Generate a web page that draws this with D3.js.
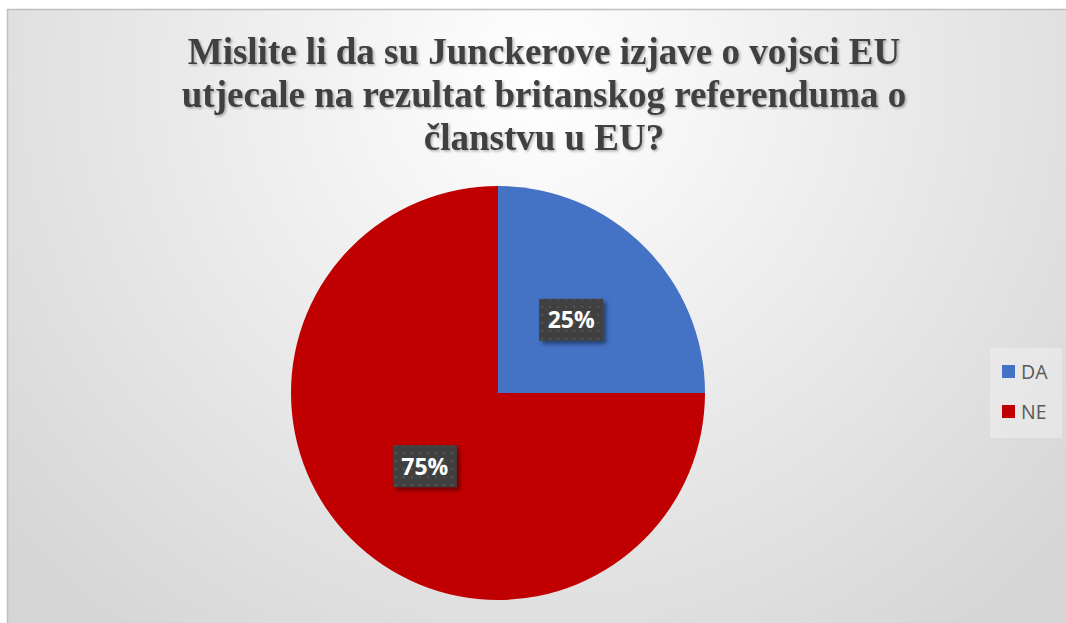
<!DOCTYPE html>
<html><head><meta charset="utf-8">
<script src="https://cdn.jsdelivr.net/npm/d3@7"></script>
<style>body{margin:0;background:#fff;}svg{display:block;}</style>
</head><body>
<script>
const categories = ["DA", "NE"];
const values = [25, 75];
const colors = ["#4472c4", "#c00000"];
const titleLines = ["Mislite li da su Junckerove izjave o vojsci EU", "utjecale na rezultat britanskog referenduma o", "članstvu u EU?"];

const W = 1066, H = 623;
const svg = d3.select("body").append("svg").attr("width", W).attr("height", H);
const defs = svg.append("defs");

const bg = defs.append("radialGradient").attr("id", "bg").attr("gradientUnits", "userSpaceOnUse")
  .attr("cx", 540).attr("cy", 80).attr("r", 700);
bg.append("stop").attr("offset", "0").attr("stop-color", "#ffffff");
bg.append("stop").attr("offset", "1").attr("stop-color", "#d6d6d6");

const pat = defs.append("pattern").attr("id", "dots").attr("patternUnits", "userSpaceOnUse")
  .attr("width", 8).attr("height", 8);
pat.append("rect").attr("width", 8).attr("height", 8).attr("fill", "#3f3f3f");
pat.append("rect").attr("x", 2).attr("y", 2).attr("width", 2).attr("height", 2).attr("fill", "#555");

const ts = defs.append("filter").attr("id", "tshadow").attr("x", "-10%").attr("y", "-10%").attr("width", "120%").attr("height", "140%");
ts.append("feDropShadow").attr("dx", 1.5).attr("dy", 1.5).attr("stdDeviation", 1).attr("flood-color", "#000").attr("flood-opacity", 0.3);

const bs = defs.append("filter").attr("id", "bshadow").attr("x", "-20%").attr("y", "-20%").attr("width", "150%").attr("height", "160%");
bs.append("feDropShadow").attr("dx", 3).attr("dy", 3).attr("stdDeviation", 2).attr("flood-color", "#000").attr("flood-opacity", 0.45);

svg.append("rect").attr("x", 7.5).attr("y", 9.5).attr("width", W).attr("height", H)
  .attr("fill", "url(#bg)").attr("stroke", "#bfbfbf").attr("stroke-width", 1.5);

// Title
const title = svg.append("text").attr("text-anchor", "middle")
  .attr("font-family", "'Liberation Serif', 'Times New Roman', serif")
  .attr("font-weight", "bold").attr("font-size", 37).attr("fill", "#404040")
  .attr("filter", "url(#tshadow)");
titleLines.forEach((t, i) => {
  title.append("tspan").attr("x", 544).attr("y", 64 + i * 43).text(t);
});

// Pie
const cx = 498, cy = 393, R = 207;
const pie = d3.pie().sort(null).value(d => d)(values);
const arc = d3.arc().innerRadius(0).outerRadius(R);
const g = svg.append("g").attr("transform", `translate(${cx},${cy})`);
g.selectAll("path").data(pie).join("path")
  .attr("d", arc).attr("fill", (d, i) => colors[i]);

// Labels
const labelArc = d3.arc().innerRadius(R * 0.5).outerRadius(R * 0.5);
const total = d3.sum(values);
pie.forEach((d, i) => {
  const [x, y] = labelArc.centroid(d);
  const lg = g.append("g").attr("transform", `translate(${x},${y})`);
  lg.append("rect").attr("x", -32).attr("y", -21).attr("width", 64).attr("height", 42)
    .attr("fill", "url(#dots)").attr("filter", "url(#bshadow)");
  lg.append("text").attr("text-anchor", "middle").attr("y", 8.5)
    .attr("font-family", "'Open Sans', 'Noto Sans', sans-serif").attr("font-weight", "bold")
    .attr("font-size", 23).attr("fill", "#fff")
    .text(Math.round(values[i] / total * 100) + "%");
});

// Legend
const lgd = svg.append("g");
lgd.append("rect").attr("x", 990).attr("y", 348).attr("width", 72).attr("height", 90)
  .attr("fill", "#ffffff").attr("opacity", 0.3);
categories.forEach((c, i) => {
  const y = 372 + i * 40;
  lgd.append("rect").attr("x", 1002).attr("y", y - 7).attr("width", 13).attr("height", 13).attr("fill", colors[i]);
  lgd.append("text").attr("x", 1021).attr("y", y + 7)
    .attr("font-family", "'Open Sans', 'Noto Sans', sans-serif").attr("font-size", 19.5)
    .attr("fill", "#595959").text(c);
});
</script>
</body></html>
